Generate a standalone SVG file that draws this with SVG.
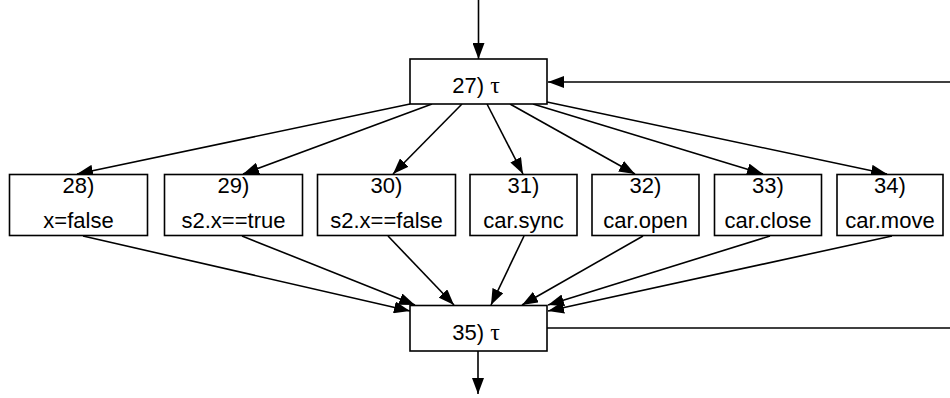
<svg xmlns="http://www.w3.org/2000/svg" width="950" height="398" viewBox="0 0 950 398">
  <style>
    .box { fill: #ffffff; stroke: #000000; stroke-width: 1.6; }
    .lbl { font-family: "Liberation Sans", Arial, Helvetica, sans-serif; font-size: 22px; fill: #000000; text-anchor: middle; }
    .tau { font-family: "Liberation Serif", "Times New Roman", serif; font-size: 24px; }
    .edge { fill: none; stroke: #000000; stroke-width: 1.6; }
    .arr { marker-end: url(#head); }
  </style>
  <defs>
    <marker id="head" markerUnits="userSpaceOnUse" markerWidth="16" markerHeight="12" refX="16" refY="6" orient="auto">
      <path d="M0,0 L16,6 L0,12 Z" fill="#000000"/>
    </marker>
  </defs>

  <!-- connectors -->
  <g id="edges">
    <line class="edge arr" x1="478.5" y1="0" x2="478.5" y2="59"/>
    <line class="edge arr" x1="950" y1="82" x2="548" y2="82"/>
    <line class="edge arr" x1="410" y1="104" x2="77" y2="174"/>
    <line class="edge arr" x1="432" y1="104" x2="243" y2="174"/>
    <line class="edge arr" x1="462" y1="104" x2="393" y2="174"/>
    <line class="edge arr" x1="487" y1="104" x2="523" y2="174"/>
    <line class="edge arr" x1="510" y1="104" x2="635" y2="174"/>
    <line class="edge arr" x1="533" y1="104" x2="763" y2="174"/>
    <line class="edge arr" x1="547" y1="102" x2="887" y2="174"/>
    <line class="edge arr" x1="83" y1="236" x2="410" y2="311"/>
    <line class="edge arr" x1="242" y1="236" x2="415" y2="305"/>
    <line class="edge arr" x1="388" y1="236" x2="454" y2="305"/>
    <line class="edge arr" x1="524" y1="236" x2="491" y2="305"/>
    <line class="edge arr" x1="643" y1="236" x2="522" y2="305"/>
    <line class="edge arr" x1="770" y1="236" x2="548" y2="305"/>
    <line class="edge arr" x1="892" y1="236" x2="548" y2="311"/>
    <line class="edge" x1="547" y1="328" x2="950" y2="328"/>
    <line class="edge arr" x1="478" y1="351" x2="478" y2="394"/>
  </g>

  <g id="n27">
    <rect class="box" x="410" y="59" width="137" height="45"/>
    <text class="lbl" x="476" y="92.5">27) <tspan class="tau">τ</tspan></text>
  </g>
  <g id="n28">
    <rect class="box" x="9.5" y="174.5" width="138" height="61"/>
    <text class="lbl" x="78.5" y="192.5">28)</text>
    <text class="lbl" x="78.5" y="228">x=false</text>
  </g>
  <g id="n29">
    <rect class="box" x="164.5" y="174.5" width="138" height="61"/>
    <text class="lbl" x="233.5" y="192.5">29)</text>
    <text class="lbl" x="233.5" y="228">s2.x==true</text>
  </g>
  <g id="n30">
    <rect class="box" x="317.5" y="174.5" width="138" height="61"/>
    <text class="lbl" x="386.5" y="192.5">30)</text>
    <text class="lbl" x="386.5" y="228">s2.x==false</text>
  </g>
  <g id="n31">
    <rect class="box" x="470" y="174.5" width="107" height="61"/>
    <text class="lbl" x="523.5" y="192.5">31)</text>
    <text class="lbl" x="523.5" y="228">car.sync</text>
  </g>
  <g id="n32">
    <rect class="box" x="592" y="174.5" width="107" height="61"/>
    <text class="lbl" x="645.5" y="192.5">32)</text>
    <text class="lbl" x="645.5" y="228">car.open</text>
  </g>
  <g id="n33">
    <rect class="box" x="714.5" y="174.5" width="107" height="61"/>
    <text class="lbl" x="768" y="192.5">33)</text>
    <text class="lbl" x="768" y="228">car.close</text>
  </g>
  <g id="n34">
    <rect class="box" x="837" y="174.5" width="106" height="61"/>
    <text class="lbl" x="890" y="192.5">34)</text>
    <text class="lbl" x="890" y="228">car.move</text>
  </g>
  <g id="n35">
    <rect class="box" x="410" y="305.5" width="137" height="45.5"/>
    <text class="lbl" x="476" y="340">35) <tspan class="tau">τ</tspan></text>
  </g>
</svg>
